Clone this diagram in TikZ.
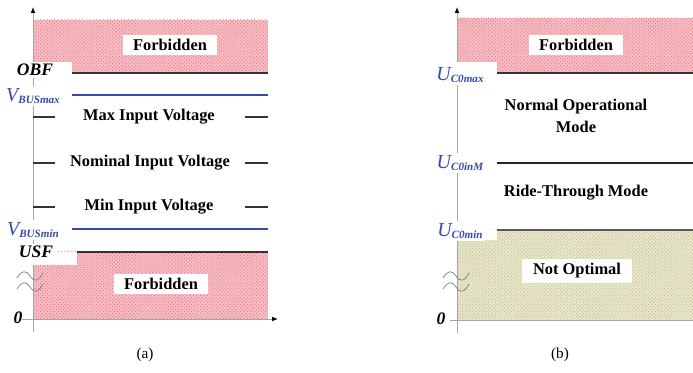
\documentclass[tikz,border=0pt]{standalone}
\usepackage{fontspec}
\setmainfont{Liberation Serif}
\usetikzlibrary{arrows.meta, patterns}
\definecolor{forbid}{RGB}{246,190,196}
\definecolor{forbiddot}{RGB}{232,110,122}
\definecolor{notopt}{RGB}{232,230,202}
\definecolor{notoptdot}{RGB}{190,186,140}
\definecolor{busblue}{RGB}{55,75,170}
\definecolor{axisgray}{RGB}{165,165,165}
\newcommand{\lvlname}[2]{{\fontsize{17}{18}\selectfont\itshape #1}\raisebox{-0.3ex}{\fontsize{9.5}{10}\selectfont\itshape\bfseries #2}}

\begin{document}
\begin{tikzpicture}[x=0.03cm, y=-0.03cm,
  zonetext/.style={font=\fontsize{14}{19}\selectfont\bfseries, fill=white, inner xsep=9pt, inner ysep=4pt, align=center},
  freetext/.style={font=\fontsize{14}{19}\selectfont\bfseries, align=center},
  lvllabel/.style={font=\fontsize{15}{17}\selectfont\bfseries\itshape, fill=white, inner sep=2pt},
  buslabel/.style={text=busblue, fill=white, inner sep=2pt},
  forbidzone/.style={preaction={fill=forbid}, pattern=crosshatch dots, pattern color=forbiddot},
  notoptzone/.style={preaction={fill=notopt}, pattern=crosshatch dots, pattern color=notoptdot},
  axisline/.style={axisgray, line width=0.8pt},
  tip/.style={-{Latex[length=5pt,width=4pt,black]}},
  tilde/.style={gray, line width=0.6pt},
  caption/.style={font=\fontsize{13}{15}\selectfont}]
  \useasboundingbox (0,0) rectangle (693,373);

  % ---- (a) bus voltage ----
  \fill[forbidzone] (33,20) rectangle (268,73);
  \fill[forbidzone] (33,252) rectangle (268,319);
  \draw[axisline, tip] (33,332) -- (33,7);
  \draw[axisline, tip] (22,319) -- (278,319);
  \coordinate (obfL) at (72,73);   \coordinate (obfR) at (268,73);
  \coordinate (vmaxL) at (72,95);  \coordinate (vmaxR) at (268,95);
  \coordinate (vminL) at (72,229); \coordinate (vminR) at (268,229);
  \coordinate (usfL) at (77,252);  \coordinate (usfR) at (268,252);
  \draw[black!80, line width=1.2pt] (obfL) -- (obfR);
  \draw[busblue, line width=1.4pt] (vmaxL) -- (vmaxR);
  \draw[busblue, line width=1.4pt] (vminL) -- (vminR);
  \draw[black!80, line width=1.2pt] (usfL) -- (usfR);
  \node[zonetext] (forbidA) at (170,45) {Forbidden};
  \node[zonetext] (forbidB) at (161,284) {Forbidden};
  \node[freetext] (maxin) at (149,117) {Max Input Voltage};
  \node[freetext] (nomin) at (150,163) {Nominal Input Voltage};
  \node[freetext] (minin) at (149,207) {Min Input Voltage};
  \foreach \yy in {117,163,207}{
    \draw[black!80, line width=1.2pt] (33,\yy) -- (55,\yy);
    \draw[black!80, line width=1.2pt] (245,\yy) -- (268,\yy);
  }
  \fill[white] (0,62) rectangle (72,73);
  \fill[white] (0,252) rectangle (77,265);
  \node[lvllabel] (obf) at (35,70) {OBF};
  \node[buslabel] (vmax) at (33,96) {\lvlname{V}{BUSmax}};
  \node[buslabel] (vmin) at (33,230) {\lvlname{V}{BUSmin}};
  \node[lvllabel] (usf) at (36,252) {USF};
  \draw[tilde] (17,278) .. controls (22,270) and (26,270) .. (30,276) .. controls (34,282) and (38,282) .. (43,273);
  \draw[tilde] (17,289) .. controls (22,281) and (26,281) .. (30,287) .. controls (34,293) and (38,293) .. (43,284);
  \node[lvllabel, fill=none] (zeroA) at (18,318) {0};
  \node[caption] (capA) at (145,355) {(a)};

  % ---- (b) capacitor voltage ----
  \fill[forbidzone] (457,18) rectangle (693,73);
  \fill[notoptzone] (457,230) rectangle (693,320);
  \draw[axisline, tip] (457,333) -- (457,7);
  \draw[axisline] (450,320) -- (693,320);
  \coordinate (cmaxL) at (497,73);  \coordinate (cmaxR) at (693,73);
  \coordinate (cinL) at (497,163);  \coordinate (cinR) at (693,163);
  \coordinate (cminL) at (497,230); \coordinate (cminR) at (693,230);
  \draw[black!80, line width=1.2pt] (cmaxL) -- (cmaxR);
  \draw[black!85, line width=1.2pt] (cinL) -- (cinR);
  \draw[black!65, line width=1.2pt] (cminL) -- (cminR);
  \fill[white] (433,62) rectangle (497,73);
  \fill[white] (433,230) rectangle (497,240);
  \node[zonetext] (forbidC) at (576,45) {Forbidden};
  \node[freetext] (normal) at (576,116) {Normal Operational\\Mode};
  \node[freetext] (ride) at (576,193) {Ride-Through Mode};
  \node[zonetext] (notopt) at (577,271) {Not Optimal};
  \node[buslabel] (cmax) at (460,75) {\lvlname{U}{C0max}};
  \node[buslabel] (cin) at (460,163) {\lvlname{U}{C0inM}};
  \node[buslabel] (cmin) at (460,231) {\lvlname{U}{C0min}};
  \draw[tilde] (443,278) .. controls (448,270) and (452,270) .. (456,276) .. controls (460,282) and (464,282) .. (469,273);
  \draw[tilde] (443,289) .. controls (448,281) and (452,281) .. (456,287) .. controls (460,293) and (464,293) .. (469,284);
  \node[lvllabel, fill=none] (zeroB) at (441,319) {0};
  \node[caption] (capB) at (560,355) {(b)};
\end{tikzpicture}
\end{document}
